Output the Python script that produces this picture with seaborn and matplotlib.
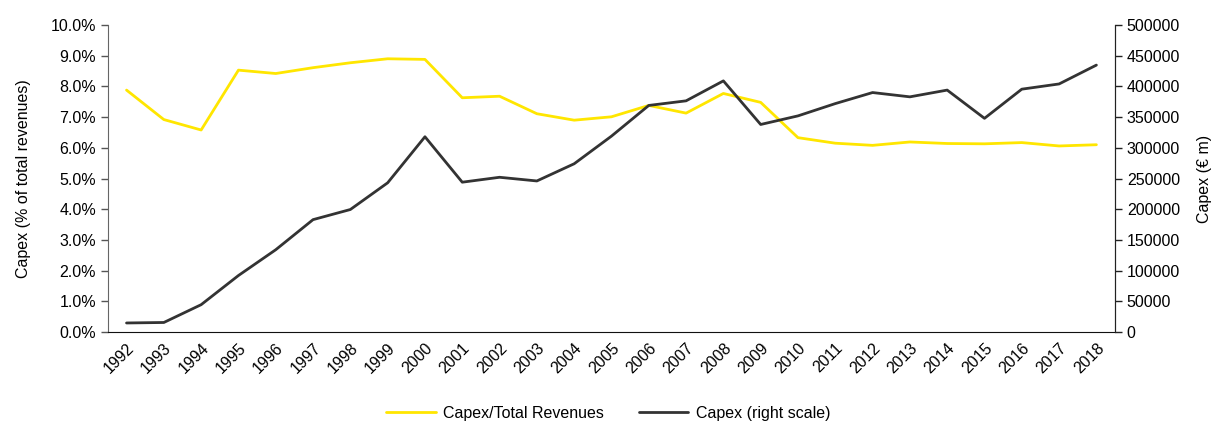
import matplotlib
matplotlib.use("Agg")
import matplotlib.pyplot as plt
import matplotlib.ticker as mticker
import seaborn as sns
import pandas as pd

# values
years = list(range(1992, 2019))
capex_share = [7.88, 6.92, 6.58, 8.53, 8.42, 8.61, 8.77, 8.90, 8.88, 7.63,
               7.68, 7.11, 6.90, 7.01, 7.38, 7.13, 7.77, 7.48, 6.33, 6.15,
               6.08, 6.19, 6.14, 6.13, 6.17, 6.06, 6.10]
capex_abs = [14700, 15500, 44500, 92000, 134000, 183000, 199500, 243000, 318000, 244000,
             252000, 246000, 274000, 319000, 369000, 376500, 409000, 338000, 352000, 372000,
             390000, 383000, 394000, 348000, 395500, 404000, 434700]

YELLOW = "#FFE600"
DARK = "#333333"
FS = 11.5

df = pd.DataFrame({"year": years, "share": capex_share, "capex": capex_abs})

sns.set_style("white")
plt.rcParams["font.family"] = ["Liberation Sans", "DejaVu Sans"]
plt.rcParams["text.color"] = "black"
plt.rcParams["axes.labelcolor"] = "black"
plt.rcParams["xtick.color"] = "black"
plt.rcParams["ytick.color"] = "black"

fig = plt.figure(figsize=(12.26, 4.21), dpi=100)
ax = fig.add_axes([0.088, 0.2114, 0.8215, 0.7292])
ax2 = ax.twinx()

sns.lineplot(data=df, x="year", y="share", ax=ax, color=YELLOW, linewidth=2,
             label="Capex/Total Revenues", legend=False)
sns.lineplot(data=df, x="year", y="capex", ax=ax2, color=DARK, linewidth=2,
             label="Capex (right scale)", legend=False)

ax.set_xlim(1991.5, 2018.5)
ax.set_ylim(0, 10)
ax.yaxis.set_major_locator(mticker.MultipleLocator(1))
ax.yaxis.set_major_formatter(mticker.FuncFormatter(lambda v, p: f"{v:.1f}%"))
ax2.set_ylim(0, 500000)
ax2.yaxis.set_major_locator(mticker.MultipleLocator(50000))
ax2.yaxis.set_major_formatter(mticker.FuncFormatter(lambda v, p: f"{int(v)}"))

ax.set_xticks(years)
ax.set_xticklabels([str(y) for y in years], rotation=45, ha="right",
                   rotation_mode="anchor", fontsize=FS)
ax.tick_params(axis="x", length=0, pad=6)
ax.tick_params(axis="y", length=5, width=1, color="#555555", labelsize=FS, direction="out", left=True)
ax2.tick_params(axis="y", length=5, width=1, color="#222222", labelsize=FS, direction="out", right=True)

ax.set_xlabel("")
ax.set_ylabel("Capex (% of total revenues)", fontsize=FS, labelpad=14)
ax2.set_ylabel("Capex (€ m)", fontsize=FS, labelpad=12)

for a in (ax, ax2):
    a.spines["top"].set_visible(False)
    a.grid(False)
ax.spines["left"].set_color("#666666")
ax.spines["bottom"].set_color("#111111")
ax2.spines["right"].set_color("#222222")
ax2.spines["left"].set_visible(False)
ax2.spines["bottom"].set_visible(False)

h1, l1 = ax.get_legend_handles_labels()
h2, l2 = ax2.get_legend_handles_labels()
fig.legend(h1 + h2, l1 + l2, loc="lower center", bbox_to_anchor=(0.496, -0.033),
           ncol=2, frameon=False, fontsize=FS, handlelength=3.1,
           handletextpad=0.45, columnspacing=2.2)

fig.savefig("out.png", dpi=100)
